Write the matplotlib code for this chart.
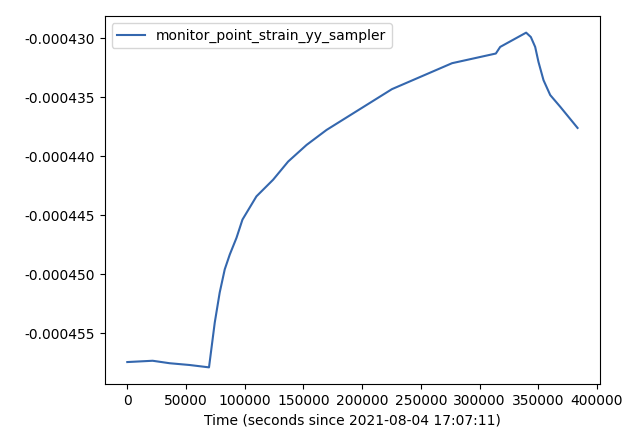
import numpy as np
import matplotlib
matplotlib.use("Agg")
import matplotlib.pyplot as plt
from matplotlib.ticker import FormatStrFormatter

t = [0, 21600, 36100, 53100, 69600, 74500, 78700, 83000, 87300, 93000,
     98100, 110000, 124200, 137000, 152700, 169700, 225400, 276600,
     313900, 317600, 339700, 343700, 347400, 350200, 354500, 360200,
     368700, 383500]
strain = [-0.00045745, -0.00045734, -0.00045755, -0.0004577, -0.0004579,
          -0.00045410, -0.00045156, -0.00044959, -0.00044833, -0.00044692,
          -0.00044537, -0.00044340, -0.00044199, -0.00044045, -0.00043904,
          -0.00043777, -0.00043431, -0.00043211, -0.00043129, -0.00043073,
          -0.00042952, -0.00042989, -0.00043073, -0.00043200, -0.00043355,
          -0.00043481, -0.00043580, -0.00043760]

fig, ax = plt.subplots(figsize=(6.35, 4.42), dpi=100)
fig.subplots_adjust(left=0.165, right=0.945, top=0.964, bottom=0.131)
ax.plot(t, strain, color='#3467ae', label='monitor_point_strain_yy_sampler')
ax.yaxis.set_major_formatter(FormatStrFormatter('%.6f'))
ax.set_xlabel('Time (seconds since 2021-08-04 17:07:11)')
ax.legend(loc='upper left')
fig.savefig('out.png')
